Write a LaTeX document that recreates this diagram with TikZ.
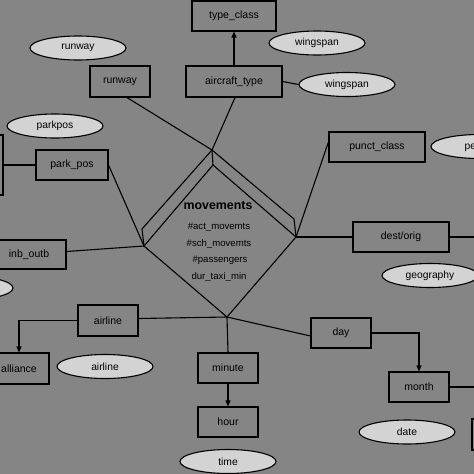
\documentclass[tikz,border=0pt]{standalone}
\usepackage{fontspec}
\setmainfont{Liberation Sans}
\usetikzlibrary{shapes.geometric,arrows.meta}
\definecolor{bggray}{HTML}{858585}
\definecolor{attrgray}{HTML}{D3D3D3}
\tikzset{
	box/.style={draw,rectangle,minimum width=60pt,minimum height=30pt,inner sep=0pt,
		font=\fontsize{10.5}{12}\selectfont},
	attr/.style={draw,ellipse,fill=attrgray,minimum width=96pt,minimum height=24pt,inner sep=0pt,
		font=\fontsize{10.3}{12}\selectfont},
	field/.style={anchor=center,font=\fontsize{9.6}{11}\selectfont},
	isa/.style={-{Triangle[length=6pt,width=5pt]}}
}
\begin{document}
\begin{tikzpicture}[x=1pt,y=-1pt,line width=1.1pt]
				\useasboundingbox (0,0) rectangle (474,474);
				\fill[bggray] (0,0) rectangle (474,474);
				\clip (0,0) rectangle (474,474);
				\node[box,minimum width=84pt] (typeclass) at (234,16) {type\_class};
				\node[box,minimum width=96pt,minimum height=31pt] (aircrafttype) at (234,81.5) {aircraft\_type};
				\node[box,minimum height=31pt] (runwaybox) at (120,81.5) {runway};
				\node[box,minimum width=72pt] (parkposbox) at (72,165) {park\_pos};
				\node[box,minimum height=60pt] (leftbox) at (-27,165) {};
				\node[box,minimum width=74pt,minimum height=29pt] (inboutb) at (29,254.5) {inb\_outb};
				\node[box,minimum height=31pt] (airlinebox) at (108,320.5) {airline};
				\node[box,minimum height=31pt] (alliance) at (19,368.5) {alliance};
				\node[box] (minute) at (228,368) {minute};
				\node[box] (hour) at (228,422) {hour};
				\node[box] (day) at (341,333) {day};
				\node[box] (month) at (419,387) {month};
				\node[box,minimum width=96pt] (punctclass) at (377,147) {punct\_class};
				\node[box,minimum width=96pt] (destorig) at (401,237) {dest/orig};
				\node[box,minimum height=31pt] (rightbox) at (502,434.5) {};
				\node[attr] (runwayattr) at (78,48) {runway};
				\node[attr] (wingspanA) at (317,43) {wingspan};
				\node[attr] (wingspanB) at (347,84.5) {wingspan};
				\node[attr] (parkposattr) at (55,126) {parkpos};
				\node[attr] (leftattr) at (-35,288) {};
				\node[attr] (airlineattr) at (105,366.5) {airline};
				\node[attr] (timeattr) at (228,461.5) {time};
				\node[attr] (geography) at (430,275.5) {geography};
				\node[attr] (dateattr) at (407,432) {date};
				\node[attr] (periodattr) at (479,146.5) {period};
				\coordinate (mvT) at (213,165);
				\coordinate (mvL) at (144,246);
				\coordinate (mvB) at (227,317);
				\coordinate (mvR) at (296,237);
				\coordinate (mvTT) at (212,150);
				\coordinate (mvLL) at (142,229);
				\coordinate (mvRR) at (294,219);
				\coordinate (destout) at (480,237);
				\coordinate (monthout) at (480,387);
				\draw (mvT) -- (mvL) -- (mvB) -- (mvR) -- cycle;
				\draw (mvL) -- (mvLL) -- (mvTT) -- (mvRR) -- (mvR);
				\draw (mvTT) -- (mvT);
				\node[anchor=center,font=\fontsize{12.4}{14}\selectfont\bfseries] (mvtitle) at (218,206) {movements};
				\node[field] (actmv) at (219,227) {\#act\_movemts};
				\node[field] (schmv) at (219,243.5) {\#sch\_movemts};
				\node[field] (pass) at (220,260) {\#passengers};
				\node[field] (taxi) at (219,277) {dur\_taxi\_min};
				\draw ([xshift=7pt]runwaybox.south) -- (mvTT);
				\draw ([xshift=1pt]aircrafttype.south) -- (mvTT);
				\draw[isa] (aircrafttype.north) -- (typeclass.south);
				\draw (aircrafttype.east) -- (wingspanB.west);
				\draw (leftbox.east) -- (parkposbox.west);
				\draw (parkposbox.east) -- (mvL);
				\draw ([yshift=3pt]inboutb.east) -- (mvL);
				\draw ([yshift=5pt]punctclass.west) -- (mvR);
				\draw (mvR) -- (destorig.west);
				\draw (destorig.east) -- (destout);
				\draw ([yshift=2pt]airlinebox.east) -- (mvB);
				\draw[isa] (airlinebox.west) -| (alliance.north);
				\draw (mvB) -- (minute.north);
				\draw[isa] (minute.south) -- (hour.north);
				\draw (mvB) -- ([yshift=-3pt]day.west);
				\draw[isa] (day.east) -| (month.north);
				\draw (month.east) -- (monthout);
			\end{tikzpicture}
\end{document}
